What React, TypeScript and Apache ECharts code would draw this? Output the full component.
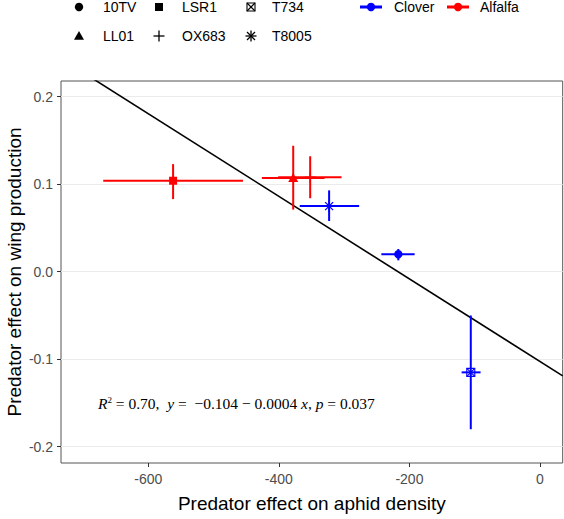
import React, { useEffect, useRef } from 'react';
import * as echarts from 'echarts';

// ---- data ----
const cloverCultivars = ['10TV', 'T734', 'T8005'];
const cloverX = [-217, -106, -323];
const cloverY = [0.020, -0.115, 0.075];
const cloverXLo = [-243, -120, -368];
const cloverXHi = [-192, -91, -277];
const cloverYLo = [0.013, -0.180, 0.058];
const cloverYHi = [0.026, -0.050, 0.093];

const alfalfaCultivars = ['LSR1', 'LL01', 'OX683'];
const alfalfaX = [-562, -378, -352];
const alfalfaY = [0.104, 0.107, 0.108];
const alfalfaXLo = [-669, -426, -401];
const alfalfaXHi = [-455, -330, -304];
const alfalfaYLo = [0.083, 0.071, 0.084];
const alfalfaYHi = [0.123, 0.144, 0.132];

const regIntercept = -0.1026;
const regSlope = -0.000472;

const xTicks = [-600, -400, -200, 0];
const yTicks = [-0.2, -0.1, 0.0, 0.1, 0.2];
const xMin = -733.7;
const xMax = 34.8;
const yMin = -0.2186;
const yMax = 0.218;

const legendRow1 = ['10TV', 'LSR1', 'T734'];
const legendRow2 = ['LL01', 'OX683', 'T8005'];
const cropNames = ['Clover', 'Alfalfa'];

// ---- styles ----
const BLUE = '#0000FF';
const RED = '#FF0000';
const shapeOf: Record<string, string> = {
  '10TV': 'circle',
  LSR1: 'square',
  T734: 'squarecross',
  LL01: 'triangle',
  OX683: 'plus',
  T8005: 'asterisk',
};

function symbolEls(shape: string, cx: number, cy: number, color: string): any[] {
  const s = { stroke: color, lineWidth: 1.3 };
  switch (shape) {
    case 'circle':
      return [{ type: 'circle', shape: { cx, cy, r: 4.2 }, style: { fill: color } }];
    case 'square':
      return [{ type: 'rect', shape: { x: cx - 4, y: cy - 4, width: 8, height: 8 }, style: { fill: color } }];
    case 'triangle':
      return [{ type: 'polygon', shape: { points: [[cx, cy - 5], [cx - 5, cy + 3.8], [cx + 5, cy + 3.8]] }, style: { fill: color } }];
    case 'plus':
      return [
        { type: 'line', shape: { x1: cx - 5.5, y1: cy, x2: cx + 5.5, y2: cy }, style: s },
        { type: 'line', shape: { x1: cx, y1: cy - 5.5, x2: cx, y2: cy + 5.5 }, style: s },
      ];
    case 'asterisk':
      return [
        { type: 'line', shape: { x1: cx - 5.5, y1: cy, x2: cx + 5.5, y2: cy }, style: s },
        { type: 'line', shape: { x1: cx, y1: cy - 5.5, x2: cx, y2: cy + 5.5 }, style: s },
        { type: 'line', shape: { x1: cx - 4, y1: cy - 4, x2: cx + 4, y2: cy + 4 }, style: s },
        { type: 'line', shape: { x1: cx - 4, y1: cy + 4, x2: cx + 4, y2: cy - 4 }, style: s },
      ];
    case 'squarecross':
      return [
        { type: 'rect', shape: { x: cx - 4, y: cy - 4, width: 8, height: 8 }, style: { fill: 'none', stroke: color, lineWidth: 1.1 } },
        { type: 'line', shape: { x1: cx - 4, y1: cy - 4, x2: cx + 4, y2: cy + 4 }, style: { stroke: color, lineWidth: 1.1 } },
        { type: 'line', shape: { x1: cx - 4, y1: cy + 4, x2: cx + 4, y2: cy - 4 }, style: { stroke: color, lineWidth: 1.1 } },
      ];
  }
  return [];
}

function makeRender(names: string[], color: string) {
  return (params: any, api: any) => {
    const x = api.value(0), y = api.value(1);
    const c = api.coord([x, y]);
    const l = api.coord([api.value(2), y]);
    const r = api.coord([api.value(3), y]);
    const b = api.coord([x, api.value(4)]);
    const t = api.coord([x, api.value(5)]);
    const st = { stroke: color, lineWidth: 2 };
    return {
      type: 'group',
      children: [
        { type: 'line', shape: { x1: l[0], y1: l[1], x2: r[0], y2: r[1] }, style: st },
        { type: 'line', shape: { x1: t[0], y1: t[1], x2: b[0], y2: b[1] }, style: st },
        ...symbolEls(shapeOf[names[params.dataIndex]], c[0], c[1], color),
      ],
    };
  };
}

const FONT = 'Liberation Sans, Arial, sans-serif';

export default function App() {
  const ref = useRef<HTMLDivElement>(null);
  useEffect(() => {
    if (!ref.current) return;
    const chart = echarts.init(ref.current, undefined, { renderer: 'svg' });

    const cloverData = cloverX.map((x, i) => [x, cloverY[i], cloverXLo[i], cloverXHi[i], cloverYLo[i], cloverYHi[i]]);
    const alfalfaData = alfalfaX.map((x, i) => [x, alfalfaY[i], alfalfaXLo[i], alfalfaXHi[i], alfalfaYLo[i], alfalfaYHi[i]]);

    const legendEls: any[] = [];
    const colX = [79, 159, 251];
    const textX = [103, 182, 272];
    [legendRow1, legendRow2].forEach((row, ri) => {
      const cy = ri === 0 ? 7 : 36;
      row.forEach((name, ci) => {
        legendEls.push(...symbolEls(shapeOf[name], colX[ci], cy, '#000'));
        legendEls.push({
          type: 'text', x: textX[ci], y: cy,
          style: { text: name, fill: '#000', font: `14px ${FONT}`, textVerticalAlign: 'middle', textAlign: 'left' },
        });
      });
    });
    const cropColors = [BLUE, RED];
    const cropLineX = [360, 447];
    const cropTextX = [394, 480];
    cropNames.forEach((name, i) => {
      legendEls.push({ type: 'line', shape: { x1: cropLineX[i], y1: 7, x2: cropLineX[i] + 22, y2: 7 }, style: { stroke: cropColors[i], lineWidth: 3 } });
      legendEls.push({ type: 'circle', shape: { cx: cropLineX[i] + 11, cy: 7, r: 4.2 }, style: { fill: cropColors[i] } });
      legendEls.push({
        type: 'text', x: cropTextX[i], y: 7,
        style: { text: name, fill: '#000', font: `14px ${FONT}`, textVerticalAlign: 'middle', textAlign: 'left' },
      });
    });

    legendEls.push({
      type: 'text', x: 98, y: 403,
      style: {
        text: '{i|R}{s|2} = 0.70,  {i|y} =  \u22120.104 \u2212 0.0004 {i|x}, {i|p} = 0.037',
        fill: '#000',
        font: '15.5px Liberation Serif, serif',
        textVerticalAlign: 'middle',
        rich: {
          i: { fontStyle: 'italic', fontFamily: 'Liberation Serif', fontSize: 15.5 },
          s: { fontSize: 9, fontFamily: 'Liberation Serif', verticalAlign: 'top', lineHeight: 15 },
        },
      },
    });

    chart.setOption({
      animation: false,
      grid: {
        left: 61, top: 81, right: 1.3, bottom: 56, show: true,
        borderColor: '#555', borderWidth: 1, backgroundColor: 'transparent',
        containLabel: false, outerBoundsMode: 'none',
      },
      xAxis: {
        type: 'value', min: xMin, max: xMax,
        name: 'Predator effect on aphid density', nameLocation: 'middle', nameGap: 31,
        nameMoveOverlap: false,
        nameTextStyle: { fontSize: 19, color: '#000', fontFamily: FONT },
        axisLine: { show: false, onZero: false },
        axisTick: { show: true, length: 4, lineStyle: { color: '#333' }, customValues: xTicks },
        axisLabel: { color: '#4d4d4d', fontSize: 14, fontFamily: FONT, margin: 9, customValues: xTicks, formatter: (v: number) => String(Math.round(v)) },
        splitLine: { show: false },
      },
      yAxis: {
        type: 'value', min: yMin, max: yMax,
        name: 'Predator effect on wing production', nameLocation: 'middle', nameGap: 37,
        nameMoveOverlap: false,
        nameTextStyle: { fontSize: 19, color: '#000', fontFamily: FONT },
        axisLine: { show: false, onZero: false },
        axisTick: { show: true, length: 4, lineStyle: { color: '#333' }, customValues: yTicks },
        axisLabel: { color: '#4d4d4d', fontSize: 14, fontFamily: FONT, margin: 8, customValues: yTicks, formatter: (v: number) => v.toFixed(1) },
        splitLine: { show: true, lineStyle: { color: '#ebebeb', width: 1 } },
      },
      graphic: legendEls,
      series: [
        {
          type: 'line', name: 'fit', z: 1, symbol: 'none', clip: true,
          data: [[xMin, regIntercept + regSlope * xMin], [xMax, regIntercept + regSlope * xMax]],
          lineStyle: { color: '#000', width: 1.6 },
        },
        { type: 'custom', name: 'Alfalfa', z: 3, renderItem: makeRender(alfalfaCultivars, RED), data: alfalfaData, encode: { x: 0, y: 1 } },
        { type: 'custom', name: 'Clover', z: 3, renderItem: makeRender(cloverCultivars, BLUE), data: cloverData, encode: { x: 0, y: 1 } },
      ],
    });
    return () => chart.dispose();
  }, []);
  return <div ref={ref} style={{ position: 'fixed', left: 0, top: 0, width: 564, height: 519, background: '#fff' }} />;
}
